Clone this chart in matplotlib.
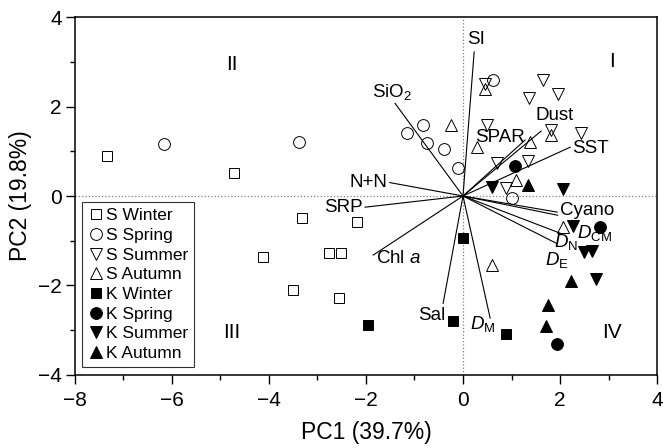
import matplotlib
matplotlib.use('agg')
import matplotlib.pyplot as plt
from matplotlib.ticker import MultipleLocator

plt.rcParams['font.family'] = ['Liberation Sans', 'DejaVu Sans']
plt.rcParams['mathtext.fontset'] = 'custom'
plt.rcParams['mathtext.rm'] = 'Liberation Sans'
plt.rcParams['mathtext.it'] = 'Liberation Sans:italic'

# sample scores (PC1, PC2) per group
s_winter_x = [-7.33, -4.72, -3.31, -2.18, -4.13, -2.76, -2.52, -3.50, -2.55]
s_winter_y = [0.90, 0.52, -0.50, -0.59, -1.36, -1.28, -1.28, -2.10, -2.27]
s_spring_x = [-6.16, -3.38, -1.16, -0.83, -0.74, -0.39, -0.10, 0.62, 1.00]
s_spring_y = [1.16, 1.21, 1.40, 1.59, 1.19, 1.04, 0.63, 2.59, -0.04]
s_summer_x = [0.46, 1.65, 1.96, 1.36, 1.81, 2.43, 0.49, 0.71, 1.33, 0.88]
s_summer_y = [2.50, 2.59, 2.28, 2.19, 1.48, 1.41, 1.59, 0.74, 0.78, 0.17]
s_autumn_x = [0.46, 1.81, 0.29, 1.38, -0.25, 1.10, 0.60, 2.06]
s_autumn_y = [2.40, 1.36, 1.10, 1.21, 1.59, 0.35, -1.54, -0.70]
k_winter_x = [-1.95, -0.01, -0.21, 0.89]
k_winter_y = [-2.88, -0.93, -2.79, -3.08]
k_spring_x = [1.07, 1.94, 2.82]
k_spring_y = [0.67, -3.31, -0.69]
k_summer_x = [0.59, 2.07, 2.26, 2.50, 2.65, 2.74]
k_summer_y = [0.21, 0.15, -0.67, -1.25, -1.22, -1.86]
k_autumn_x = [1.35, 2.22, 1.76, 1.72]
k_autumn_y = [0.25, -1.89, -2.44, -2.90]

# loading vectors
vec_names = ['SI', 'SiO$_2$', 'N+N', 'SRP', 'Chl $a$', 'Sal', '$D_\\mathrm{M}$',
             '$D_\\mathrm{E}$', '$D_\\mathrm{N}$', '$D_\\mathrm{CM}$', 'Cyano',
             'SST', 'Dust', 'SPAR']
vec_x = [0.23, -1.40, -1.51, -2.02, -1.85, -0.41, 0.56, 1.93, 2.00, 1.95, 1.94, 2.21, 1.61, 1.28]
vec_y = [3.22, 2.07, 0.30, -0.25, -1.32, -2.40, -2.73, -1.06, -0.83, -0.43, -0.36, 1.09, 1.45, 1.25]

# label anchor (x, y, ha) for each vector
lab_pos = [(0.27, 3.49, 'center'), (-1.47, 2.32, 'center'), (-1.55, 0.30, 'right'),
           (-2.06, -0.26, 'right'), (-1.80, -1.40, 'left'), (-0.37, -2.68, 'right'),
           (0.40, -2.87, 'center'), (1.93, -1.42, 'center'), (2.12, -1.02, 'center'),
           (2.70, -0.82, 'center'), (2.56, -0.32, 'center'), (2.63, 1.07, 'center'),
           (1.88, 1.79, 'center'), (0.76, 1.30, 'center')]

quad_labels = ['I', 'II', 'III', 'IV']
quad_x = [3.08, -4.76, -4.76, 3.07]
quad_y = [3.00, 2.95, -3.06, -3.06]

groups = [
    ('S Winter', s_winter_x, s_winter_y, 's', 'none', 7.5),
    ('S Spring', s_spring_x, s_spring_y, 'o', 'none', 8.5),
    ('S Summer', s_summer_x, s_summer_y, 'v', 'none', 8.5),
    ('S Autumn', s_autumn_x, s_autumn_y, '^', 'none', 8.5),
    ('K Winter', k_winter_x, k_winter_y, 's', 'black', 7.5),
    ('K Spring', k_spring_x, k_spring_y, 'o', 'black', 8.5),
    ('K Summer', k_summer_x, k_summer_y, 'v', 'black', 8.5),
    ('K Autumn', k_autumn_x, k_autumn_y, '^', 'black', 8.5),
]

fig = plt.figure(figsize=(6.63, 4.48), dpi=100)
ax = fig.add_axes([0.113, 0.163, 0.878, 0.799])

ax.axhline(0, color='gray', ls=':', lw=0.9, zorder=0)
ax.axvline(0, color='gray', ls=':', lw=0.9, zorder=0)

for name, xs, ys, m, fc, ms in groups:
    ax.plot(xs, ys, ls='none', marker=m, ms=ms, mfc=fc, mec='black', mew=0.7,
            label=name, zorder=3)

for i, name in enumerate(vec_names):
    ax.plot([0, vec_x[i]], [0, vec_y[i]], color='black', lw=0.8, zorder=2)
    lx, ly, ha = lab_pos[i]
    ax.text(lx, ly, name, ha=ha, va='center', fontsize=13.5, zorder=4)

for i, q in enumerate(quad_labels):
    ax.text(quad_x[i], quad_y[i], q, ha='center', va='center', fontsize=15)

ax.set_xlim(-8, 4)
ax.set_ylim(-4, 4)
ax.xaxis.set_major_locator(MultipleLocator(2))
ax.xaxis.set_minor_locator(MultipleLocator(1))
ax.yaxis.set_major_locator(MultipleLocator(2))
ax.yaxis.set_minor_locator(MultipleLocator(1))
ax.tick_params(which='major', direction='out', length=6.5, width=1, labelsize=15)
ax.tick_params(which='minor', direction='out', length=3.8, width=1)
ax.tick_params(axis='x', which='major', pad=5)
ax.tick_params(axis='y', which='major', pad=3)
for sp in ax.spines.values():
    sp.set_linewidth(1.1)
ax.set_xlabel('PC1 (39.7%)', fontsize=16.5, labelpad=8)
ax.set_ylabel('PC2 (19.8%)', fontsize=16.5, labelpad=4)

leg = ax.legend(loc='lower left', bbox_to_anchor=(0.013, 0.022), fontsize=12.5,
                handlelength=0.8, handletextpad=0.2, borderpad=0.35,
                labelspacing=0.26, borderaxespad=0, fancybox=False,
                edgecolor='#333333', framealpha=1)
leg.get_frame().set_linewidth(0.8)

plt.savefig('out.png', dpi=100)
